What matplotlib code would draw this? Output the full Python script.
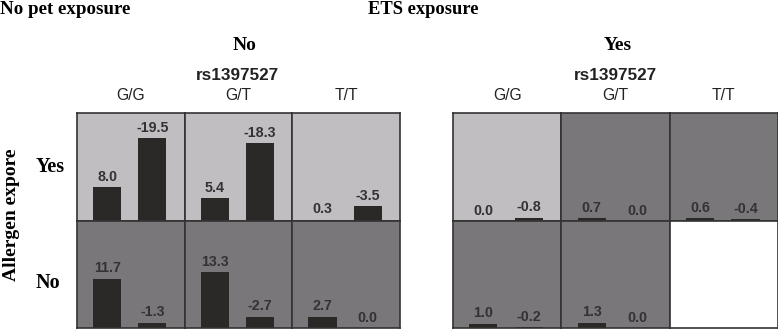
import numpy as np
import matplotlib
matplotlib.use("Agg")
import matplotlib.pyplot as plt

# ---- data ----
genotypes = ["G/G", "G/T", "T/T"]
row_labels = ["Yes", "No"]
panel_titles = ["No", "Yes"]
snp = "rs1397527"

# values[panel][row][col] = (bar1, bar2); None = no data
left_yes = [(8.0, -19.5), (5.4, -18.3), (0.3, -3.5)]
left_no = [(11.7, -1.3), (13.3, -2.7), (2.7, 0.0)]
right_yes = [(0.0, -0.8), (0.7, 0.0), (0.6, -0.4)]
right_no = [(1.0, -0.2), (1.3, 0.0), None]

# cell shade: 'L' light, 'D' dark, 'W' white
left_shade = [["L", "L", "L"], ["D", "D", "D"]]
right_shade = [["L", "D", "D"], ["D", "D", "W"]]

W, H = 778, 329
fig = plt.figure(figsize=(W / 100, H / 100), dpi=100)

SERIF = "Liberation Serif"
SANS = "Liberation Sans"
shade_col = {"L": "#c1bec2", "D": "#7a777a", "W": "#ffffff"}
bar_col = "#2b2828"
edge_col = "#333333"


def px_text(x, y, s, **kw):
    fig.text(x / W, 1 - y / H, s, **kw)


def draw_panel(x0, x1, rows, shades):
    y_edges = [113, 221, 328]
    xs = np.linspace(x0, x1, 4)
    for r in range(2):
        for c in range(3):
            left, right = xs[c], xs[c + 1]
            top, bot = y_edges[r], y_edges[r + 1]
            ax = fig.add_axes([left / W, 1 - bot / H, (right - left) / W, (bot - top) / H])
            ax.set_facecolor(shade_col[shades[r][c]])
            ax.set_xlim(-0.667, 1.714)
            ax.set_ylim(0, 25.5)
            ax.set_xticks([])
            ax.set_yticks([])
            for sp in ax.spines.values():
                sp.set_color(edge_col)
                sp.set_linewidth(1.2)
            vals = rows[r][c]
            if vals is None:
                continue
            heights = np.abs(np.array(vals))
            ax.bar([0, 1], heights, width=0.62, color=bar_col)
            for i, v in enumerate(vals):
                ax.annotate(f"{v:.1f}", (i, heights[i]), xytext=(0, 2.5),
                            textcoords="offset points", ha="center", va="bottom",
                            fontsize=10.3, fontweight="bold", color="#333333",
                            family=SANS)
    return xs


xs_l = draw_panel(77, 400, [left_yes, left_no], left_shade)
xs_r = draw_panel(453, 778, [right_yes, right_no], right_shade)

# column labels
for xs in (xs_l, xs_r):
    for c, g in enumerate(genotypes):
        px_text((xs[c] + xs[c + 1]) / 2, 95, g, ha="center", va="center",
                fontsize=11.3, family=SANS, color="#222222")

# headers
px_text(0, 9, "No pet exposure", ha="left", va="center", fontsize=13.6,
        fontweight="bold", family=SERIF)
px_text(423, 9, "ETS exposure", ha="center", va="center", fontsize=13.3,
        fontweight="bold", family=SERIF)
px_text(245, 45, panel_titles[0], ha="center", va="center", fontsize=14,
        fontweight="bold", family=SERIF)
px_text(618, 45, panel_titles[1], ha="center", va="center", fontsize=14,
        fontweight="bold", family=SERIF)
px_text(237, 75, snp, ha="center", va="center", fontsize=12.3,
        fontweight="bold", family=SANS, color="#222222")
px_text(615, 75, snp, ha="center", va="center", fontsize=12.3,
        fontweight="bold", family=SANS, color="#222222")

# row labels
px_text(50, 167, row_labels[0], ha="center", va="center", fontsize=14.5,
        fontweight="bold", family=SERIF)
px_text(48, 283, row_labels[1], ha="center", va="center", fontsize=14.5,
        fontweight="bold", family=SERIF)
px_text(12, 215, "Allergen expore", ha="center", va="center", fontsize=14,
        fontweight="bold", family=SERIF, rotation=90)

fig.savefig("out.png", dpi=100)
